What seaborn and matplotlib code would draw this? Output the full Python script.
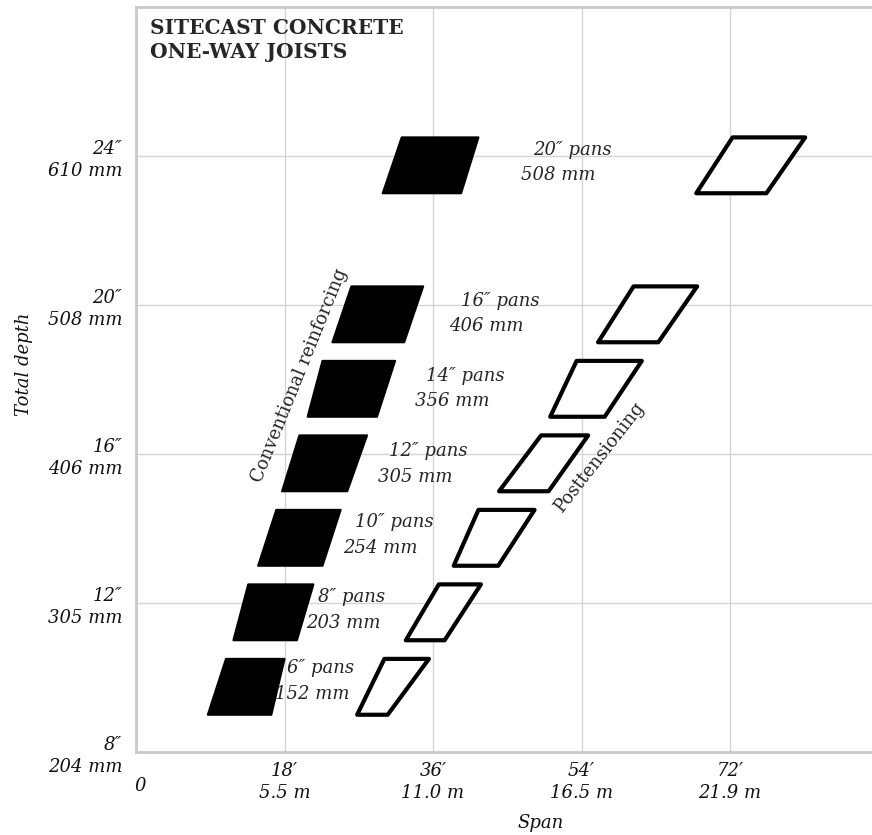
import numpy as np
import matplotlib
matplotlib.use('Agg')
import matplotlib.pyplot as plt
import matplotlib.transforms as mtransforms
import seaborn as sns

# Pan widths and the depth band each one covers (inches)
pans = ['6', '8', '10', '12', '14', '16', '20']
pan_mm = [152, 203, 254, 305, 356, 406, 508]
depth_lo = [9, 11, 13, 15, 17, 19, 23]
depth_hi = [10.5, 12.5, 14.5, 16.5, 18.5, 20.5, 24.5]

# Span ranges (feet) at bottom and top of each band: conventional reinforcing
conv_bot_lo = [8.7, 11.8, 14.8, 17.7, 20.8, 23.8, 29.9]
conv_bot_hi = [16.4, 19.5, 22.6, 25.6, 29.2, 32.5, 39.4]
conv_top_lo = [10.9, 13.6, 17.0, 19.8, 22.6, 26.1, 32.2]
conv_top_hi = [18.0, 21.5, 24.8, 28.0, 31.4, 34.8, 41.5]

# Posttensioning
post_bot_lo = [26.8, 32.7, 38.5, 44.0, 50.2, 56.0, 67.9]
post_bot_hi = [30.5, 37.4, 43.9, 50.0, 56.8, 63.3, 76.4]
post_top_lo = [30.1, 36.7, 41.5, 49.1, 53.4, 60.3, 72.3]
post_top_hi = [35.5, 41.8, 48.3, 54.8, 61.3, 68.0, 81.1]

# label anchor (ft, in) for each pan annotation
label_x = [18.3, 22.0, 26.5, 30.7, 35.2, 39.4, 48.1]
label_y = [10.25, 12.16, 14.17, 16.07, 18.1, 20.12, 24.17]

x_ticks = [0, 18, 36, 54, 72]
x_labels = ['0', '18\u2032\n5.5 m', '36\u2032\n11.0 m', '54\u2032\n16.5 m', '72\u2032\n21.9 m']
y_ticks = [8, 12, 16, 20, 24]
y_labels = ['8\u2033\n204 mm', '12\u2033\n305 mm', '16\u2033\n406 mm', '20\u2033\n508 mm', '24\u2033\n610 mm']

sns.set_theme(style='whitegrid')
plt.rcParams['font.family'] = ['DejaVu Serif', 'DejaVu Sans']

fig = plt.figure(figsize=(8.72, 8.35), dpi=100)
ax = fig.add_axes([0.156, 0.0994, 0.844, 0.8922])

for i in range(len(pans)):
    ys = [depth_lo[i], depth_lo[i], depth_hi[i], depth_hi[i]]
    ax.fill([conv_bot_lo[i], conv_bot_hi[i], conv_top_hi[i], conv_top_lo[i]], ys,
            facecolor='black', edgecolor='black', lw=1.5, joinstyle='round', zorder=3)
    ax.fill([post_bot_lo[i], post_bot_hi[i], post_top_hi[i], post_top_lo[i]], ys,
            facecolor='white', edgecolor='black', lw=3, joinstyle='round', zorder=3)
    ax.text(label_x[i], label_y[i], f'{pans[i]}\u2033 pans', style='italic',
            fontsize=13, ha='left', va='center', zorder=4)
    ax.annotate(f'{pan_mm[i]} mm', (label_x[i], label_y[i]), xytext=(-8.5, -18.5),
                textcoords='offset points', style='italic', fontsize=13,
                ha='left', va='center', zorder=4)

ax.text(19.8, 18.1, 'Conventional reinforcing', rotation=68, fontsize=13,
        ha='center', va='center', zorder=4)
ax.text(56.2, 15.9, 'Posttensioning', rotation=52, fontsize=13,
        ha='center', va='center', zorder=4)

ax.text(0.019, 0.985, 'SITECAST CONCRETE\nONE-WAY JOISTS', transform=ax.transAxes,
        fontsize=14.5, fontweight='bold', ha='left', va='top', linespacing=1.25)

ax.set_xlim(0, 89.2)
ax.set_ylim(8, 28)
ax.set_xticks(x_ticks)
ax.set_xticklabels(x_labels, style='italic', fontsize=13, linespacing=1.3)
ax.set_yticks(y_ticks)
ax.set_yticklabels(y_labels, style='italic', fontsize=13, linespacing=1.3, ha='right')
ax.tick_params(axis='x', length=0, pad=7, colors='#111111')
ax.tick_params(axis='y', length=0, pad=10, colors='#111111')

# the "0" sits lower and a bit right of its tick
lab0 = ax.get_xticklabels()[0]
lab0.set_transform(lab0.get_transform() +
                   mtransforms.ScaledTranslation(4 / 100, -15 / 100, fig.dpi_scale_trans))

ax.set_xlabel('Span', style='italic', fontsize=13, color='#111111')
ax.set_ylabel('Total depth', style='italic', fontsize=13, color='#111111')
ax.xaxis.set_label_coords(0.55, -0.083)
ax.yaxis.set_label_coords(-0.14, 0.52)

ax.grid(True, color='#d4d4d4', lw=1)
ax.set_facecolor('white')
for side in ['left', 'bottom', 'top']:
    ax.spines[side].set_visible(True)
    ax.spines[side].set_color('#c8c8c8')
    ax.spines[side].set_linewidth(2)
ax.spines['right'].set_visible(False)

fig.savefig('out.png', dpi=100, facecolor='white')
